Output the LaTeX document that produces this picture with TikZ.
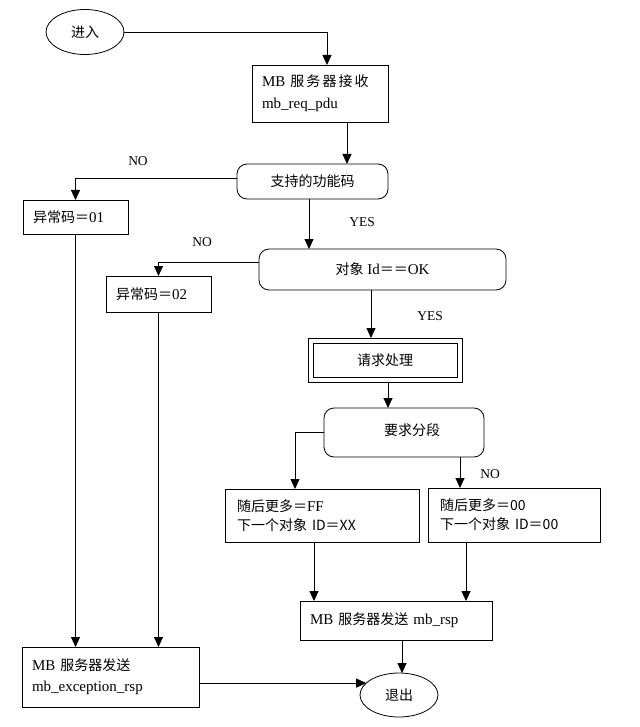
\documentclass[tikz,border=0pt]{standalone}
\usepackage{fontspec}
\setmainfont{Liberation Serif}
\newfontfamily\cjkf{Noto Sans CJK SC}
\newfontfamily\cjkwf[LetterSpace=15]{Noto Sans CJK SC}
\newcommand\cjk{\cjkf\fontsize{14}{17}\selectfont}
\newcommand\cjkw{\cjkwf\fontsize{14}{17}\selectfont}
\usetikzlibrary{arrows.meta,shapes.geometric}
\begin{document}
\begin{tikzpicture}[x=1pt,y=-1pt,
  font=\fontsize{15}{18}\selectfont,
  every node/.style={inner sep=0pt, outer sep=0pt},
  arr/.style={line width=0.8pt,-{Triangle[width=9pt,length=10pt]}},
  term/.style={draw, line width=0.8pt, ellipse},
  boxl/.style={draw, line width=0.8pt, rectangle, align=left, inner xsep=10pt},
  dec/.style={draw, line width=0.8pt, rectangle, rounded corners=10pt, align=center},
  lab/.style={font=\fontsize{13.5}{15}\selectfont}
]
\useasboundingbox (0,0) rectangle (639,727);

\node[term, minimum width=78pt, minimum height=45pt] (in) at (85,32) {\cjk 进入};
\node[boxl, minimum height=57pt, text width=116pt] (b1) at (320,93.5)
  {MB\hspace{5pt}{\cjkw 服务器接收}\\[4pt] mb\_req\_pdu};
\node[dec, minimum width=151pt, minimum height=35pt] (d1) at (312.5,181.5) {\cjk 支持的功能码};
\node[boxl, minimum height=34pt, text width=85pt] (e1) at (75.5,217) {{\cjk 异常码＝}01};
\node[dec, minimum width=247pt, minimum height=41pt] (d2) at (382.5,269.5) {{\cjk 对象} Id{\cjk ＝＝}OK};
\node[boxl, minimum height=36pt, text width=85pt] (e2) at (158.5,294) {{\cjk 异常码＝}02};
\node[draw, line width=0.8pt, minimum width=154pt, minimum height=44pt] (p) at (385,360) {};
\node[draw, line width=0.8pt, minimum width=144pt, minimum height=34pt] (pin) at (p.center) {\cjk 请求处理};
\node[dec, minimum width=160pt, minimum height=49pt] (d3) at (404,432.5) {\raisebox{5pt}{\hspace{16pt}\cjk 要求分段}};
\node[boxl, minimum height=53pt, text width=170pt, inner xsep=12pt] (ff) at (322,515.5)
  {{\cjk 随后更多＝}FF\\[1pt] {\cjk 下一个对象 ID＝XX}};
\node[boxl, minimum height=54pt, text width=148pt, inner xsep=12pt] (oo) at (514,515)
  {{\cjk 随后更多＝00}\\[1pt] {\cjk 下一个对象 ID＝00}};
\node[boxl, minimum height=39pt, text width=172pt] (rsp) at (396,620.5) {MB {\cjk 服务器发送} mb\_rsp};
\node[term, minimum width=78pt, minimum height=44pt] (out) at (399,695) {\cjk 退出};
\node[boxl, minimum height=60pt, text width=157pt] (exc) at (110.5,677)
  {MB {\cjk 服务器发送}\\[3pt] mb\_exception\_rsp};

\node[lab] (no1) at (138,161) {NO};
\node[lab] (yes1) at (362,222) {YES};
\node[lab] (no2) at (202,242) {NO};
\node[lab] (yes2) at (430,316) {YES};
\node[lab] (no3) at (490,474) {NO};

\draw[arr] (in.east) -| ([xshift=7pt]b1.north);
\draw[arr] ([xshift=27pt]b1.south) -- ([xshift=27pt]b1.south |- d1.north);
\draw[arr] ([yshift=3.5pt]d1.west) -| (e1.north);
\draw[arr] ([xshift=-3.5pt]d1.south) -- ([xshift=-3.5pt]d1.south |- d2.north);
\draw[arr] ([yshift=7pt]d2.west) -| (e2.north);
\draw[arr] ([xshift=-11.5pt]d2.south) -- ([xshift=-11.5pt]d2.south |- p.north);
\draw[arr] ([xshift=3pt]p.south) -- ([xshift=3pt]p.south |- d3.north);
\draw[arr] (d3.west) -| ([xshift=-27pt]ff.north);
\draw[arr] ([xshift=56pt]d3.south) -- ([xshift=56pt]d3.south |- oo.north);
\draw[arr] ([xshift=-8pt]ff.south) -- ([xshift=-8pt]ff.south |- rsp.north);
\draw[arr] ([xshift=-48pt]oo.south) -- ([xshift=-48pt]oo.south |- rsp.north);
\draw[arr] ([xshift=6pt]rsp.south) -- ([xshift=6pt]rsp.south |- out.north);
\draw[arr] (e1.south) -- (e1.south |- exc.north);
\draw[arr] (e2.south) -- (e2.south |- exc.north);
\draw[arr] (exc.east |- out.160) -- (out.160);
\end{tikzpicture}
\end{document}
